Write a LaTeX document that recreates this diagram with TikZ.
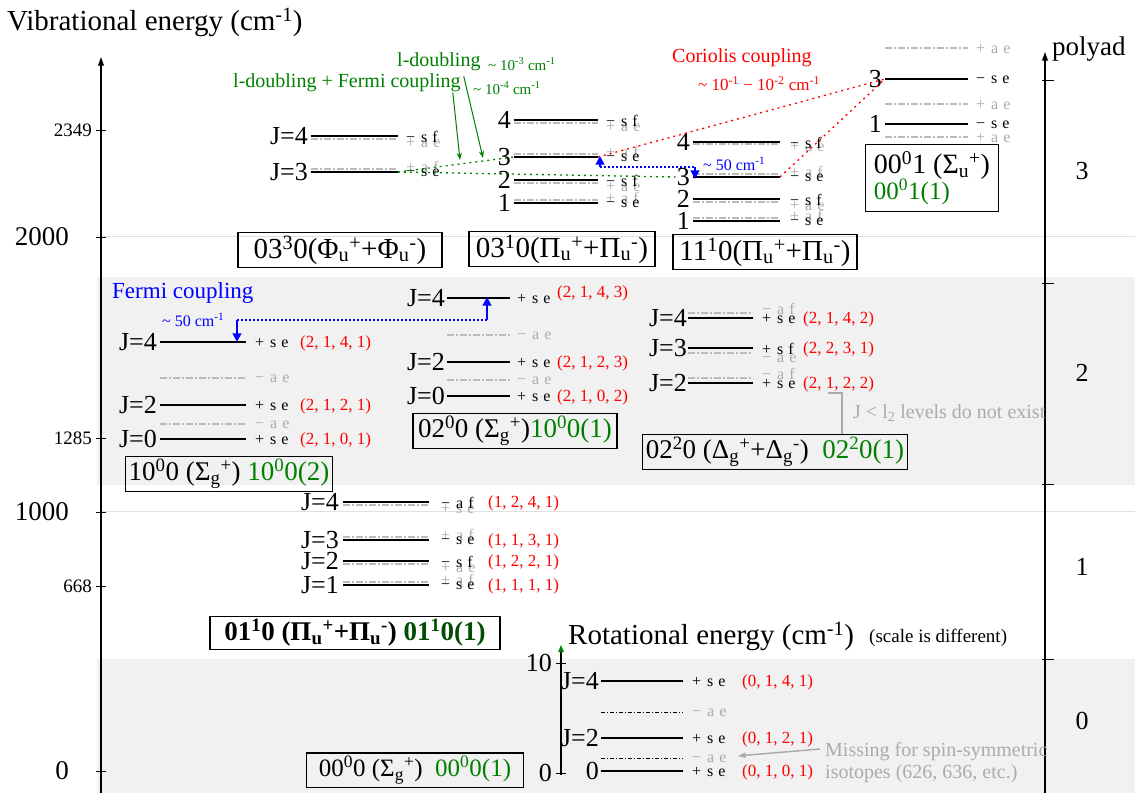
\documentclass[tikz,border=0pt]{standalone}
\usepackage{fontspec}
\setmainfont{Liberation Serif}
\usetikzlibrary{arrows.meta,positioning}
\definecolor{band}{HTML}{F1F1F1}
\definecolor{rulegray}{HTML}{E0E0E0}
\definecolor{ghostgray}{HTML}{BBBBBB}
\definecolor{textgray}{HTML}{ABABAB}
\definecolor{dgreen}{HTML}{008000}
\definecolor{qred}{HTML}{FF0000}
\definecolor{cblue}{HTML}{0000FF}
\newcommand\fs[1]{\fontsize{#1}{#1}\selectfont}
\newcommand\pse[3]{#1\hspace{6pt}#2\hspace{5pt}#3}
\newcommand\tld{\textasciitilde\ }

\begin{document}
\begin{tikzpicture}[x=1pt,y=-1pt,
  lev/.style={line width=1.8pt},
  ghost/.style={line width=1.3pt,ghostgray,dash pattern=on 7pt off 2pt on 2pt off 2pt},
  ghostk/.style={line width=1pt,dash pattern=on 4pt off 2pt on 1pt off 2pt},
  sym/.style={anchor=west,inner sep=0pt,font=\fs{16}},
  symg/.style={sym,textgray},
  jlab/.style={anchor=east,inner sep=1pt,font=\fs{26}},
  qn/.style={anchor=west,inner sep=0pt,qred,font=\fs{17}},
  vbox/.style={draw,line width=1.2pt,inner sep=3pt,font=\fs{27}},
  tlab/.style={anchor=east,inner sep=0pt},
  note/.style={anchor=west,inner sep=0pt,font=\fs{20}},
  gdot/.style={dgreen,line width=1.3pt,dash pattern=on 2pt off 4pt},
  rdot/.style={qred,line width=1.3pt,dash pattern=on 2pt off 4pt},
  bdot/.style={cblue,line width=1.8pt,dash pattern=on 2pt off 2pt},
  barr/.style={cblue,line width=2pt,-{Triangle[length=3mm,width=3mm]}},
  garr/.style={dgreen,line width=1pt,-{Stealth[length=2.5mm,width=1.8mm]}},
  axis/.style={line width=1.2pt,-{Triangle[length=3mm,width=2mm]}}]
  \useasboundingbox (0,0) rectangle (1135,793);

  % polyad bands and guide lines
  \fill[band] (97,277) rectangle (1135,485);
  \fill[band] (97,659) rectangle (1135,793);
  \draw[rulegray,line width=1pt] (101,236) -- (1135,236);
  \draw[rulegray,line width=1pt] (101,511) -- (1135,511);

  % vibrational energy axis
  \node[anchor=west,inner sep=0pt,font=\fs{29}] (vtitle) at (7,22) {Vibrational energy (cm\textsuperscript{-1})};
  \draw[axis] (101,793) -- (101,57);
  \foreach \v/\y/\x/\s in {2349/130/92/19, 2000/237/69/27, 1285/438/92/19,
                           1000/512/69/27, 668/586/92/19, 0/771/69/27} {
    \draw[line width=1pt] (96,\y) -- (106,\y);
    \node[tlab,font=\fs{\s}] (tv\v) at (\x,\y) {\v};
  }

  % polyad axis
  \draw[axis] (1045,793) -- (1045,52);
  \node[anchor=west,inner sep=0pt,font=\fs{27}] (ptitle) at (1052,49) {polyad};
  \foreach \y in {80,283,484,659} \draw[line width=1pt] (1042,\y) -- (1054,\y);
  \foreach \p/\y in {3/171,2/373,1/567,0/721}
    \node[font=\fs{26}] (pn\p) at (1082,\y) {\p};

  % ---- polyad 3 ----
  \foreach \n/\yb/\yg/\bt/\gt in {4/136/139/{\pse{−}{s}{f}}/{\pse{+}{a}{e}},
                                  3/172/169/{\pse{−}{s}{e}}/{\pse{+}{a}{f}}} {
    \draw[ghost] (311,\yg) -- (398,\yg);
    \draw[lev] (311,\yb) coordinate (pw\n) -- (398,\yb) coordinate (pe\n);
    \node[jlab] (pj\n) at (309,\yb) {J=\n};
    \node[symg] (pa\n) at (406,2*\yg-\yb+1) {\gt};
    \node[sym] (ps\n) at (406,\yb+1) {\bt};
  }
  \node[vbox,font=\fs{29},minimum width=204pt] (pbox) at (340,250) {03\textsuperscript{3}0(Φ\textsubscript{u}\textsuperscript{+}+Φ\textsubscript{u}\textsuperscript{-})};

  \foreach \n/\yb/\yg/\bt/\gt in {4/120/123/{\pse{−}{s}{f}}/{\pse{+}{a}{e}},
                                  3/157/154/{\pse{−}{s}{e}}/{\pse{+}{a}{f}},
                                  2/180/183/{\pse{−}{s}{f}}/{\pse{+}{a}{e}},
                                  1/203/200/{\pse{−}{s}{e}}/{\pse{+}{a}{f}}} {
    \draw[ghost] (514,\yg) -- (598,\yg);
    \draw[lev] (514,\yb) coordinate (qw\n) -- (598,\yb) coordinate (qe\n);
    \node[jlab] (qj\n) at (512,\yb) {\n};
    \node[symg] (qa\n) at (606,2*\yg-\yb+1) {\gt};
    \node[sym] (qs\n) at (606,\yb+1) {\bt};
  }
  \node[vbox,font=\fs{29},minimum width=186pt] (qbox) at (562,249) {03\textsuperscript{1}0(Π\textsubscript{u}\textsuperscript{+}+Π\textsubscript{u}\textsuperscript{-})};

  \foreach \n/\yb/\yg/\bt/\gt in {4/142/144/{\pse{−}{s}{f}}/{\pse{+}{a}{e}},
                                  3/177/174/{\pse{−}{s}{e}}/{\pse{+}{a}{f}},
                                  2/199/202/{\pse{−}{s}{f}}/{\pse{+}{a}{e}},
                                  1/221/218/{\pse{−}{s}{e}}/{\pse{+}{a}{f}}} {
    \draw[ghost] (693,\yg) -- (780,\yg);
    \draw[lev] (693,\yb) coordinate (rw\n) -- (780,\yb) coordinate (re\n);
    \node[jlab] (rj\n) at (691,\yb) {\n};
    \node[symg] (ra\n) at (790,2*\yg-\yb+1) {\gt};
    \node[sym] (rs\n) at (790,\yb+1) {\bt};
  }
  \node[vbox,font=\fs{29},minimum width=184pt] (rbox) at (765,252) {11\textsuperscript{1}0(Π\textsubscript{u}\textsuperscript{+}+Π\textsubscript{u}\textsuperscript{-})};

  \foreach \yg in {48,104,137} {
    \draw[ghost] (885,\yg) -- (968,\yg);
    \node[symg] (sa\yg) at (976,\yg+1) {\pse{+}{a}{e}};
  }
  \foreach \n/\yb in {3/79,1/124} {
    \draw[lev] (885,\yb) coordinate (sw\n) -- (968,\yb) coordinate (se\n);
    \node[jlab] (sj\n) at (883,\yb) {\n};
    \node[sym] (ss\n) at (976,\yb+1) {\pse{−}{s}{e}};
  }
  \node[vbox,align=left,font=\fs{28},minimum width=133pt,minimum height=67pt] (sbox) at (932,178) {00\textsuperscript{0}1 (Σ\textsubscript{u}\textsuperscript{+})\\[-2pt]{\fs{25}\color{dgreen}00\textsuperscript{0}1(1)}};

  % couplings in polyad 3
  \node[note,dgreen] (ldb) at (397,62) {l-doubling};
  \node[anchor=west,inner sep=0pt,dgreen,font=\fs{15}] (ldbv) at (488,64) {\tld 10\textsuperscript{-3} cm\textsuperscript{-1}};
  \node[note,dgreen] (lfc) at (233,83) {l-doubling + Fermi coupling};
  \node[anchor=west,inner sep=0pt,dgreen,font=\fs{15}] (lfcv) at (473,88) {\tld 10\textsuperscript{-4} cm\textsuperscript{-1}};
  \coordinate (gtip1) at (460,160);
  \coordinate (gtip2) at (483,158);
  \draw[garr] ([xshift=-8pt]lfc.south east) -- (gtip1);
  \draw[garr] ([xshift=-17pt,yshift=-5pt]ldb.south east) -- (gtip2);
  \draw[gdot] (pe3) -- (qw3);
  \draw[gdot] (pe3) -- (rj3.west);

  \node[note,qred] (cor) at (672,58) {Coriolis coupling};
  \node[anchor=west,inner sep=0pt,qred,font=\fs{17}] (corv) at (698,84) {\tld 10\textsuperscript{-1} − 10\textsuperscript{-2} cm\textsuperscript{-1}};
  \draw[rdot] (qe3) -- (sw3);
  \draw[rdot] (re3) -- (sw3);

  \coordinate (qbend) at (600,167);
  \coordinate (rbend) at (695,167);
  \coordinate (qtip) at (600,156);
  \coordinate (rtip) at (695,179);
  \draw[bdot] (qbend) -- (rbend);
  \draw[barr] (qbend) -- (qtip);
  \draw[barr] (rbend) -- (rtip);
  \node[anchor=west,inner sep=0pt,cblue,font=\fs{16}] (rfer) at (703,164) {\tld 50 cm\textsuperscript{-1}};

  % ---- polyad 2 ----
  \node[anchor=west,inner sep=0pt,cblue,font=\fs{23}] (fermi) at (112,293) {Fermi coupling};
  \foreach \yg in {378,424} {
    \draw[ghost] (160,\yg) -- (246,\yg);
    \node[symg] (fa\yg) at (255,\yg+1) {\pse{−}{a}{e}};
  }
  \foreach \n/\yb/\q in {4/342/{(2, 1, 4, 1)},2/405/{(2, 1, 2, 1)},0/439/{(2, 1, 0, 1)}} {
    \draw[lev] (160,\yb) coordinate (fw\n) -- (246,\yb) coordinate (fe\n);
    \node[jlab] (fj\n) at (158,\yb) {J=\n};
    \node[sym] (fs\n) at (255,\yb+1) {\pse{+}{s}{e}};
    \node[qn] (fq\n) at (300,\yb+1) {\q};
  }
  \node[vbox,minimum width=203pt] (fbox) at (229,474) {10\textsuperscript{0}0 (Σ\textsubscript{g}\textsuperscript{+}) \textcolor{dgreen}{10\textsuperscript{0}0(2)}};

  \foreach \yg in {335,380} {
    \draw[ghost] (447,\yg) -- (510,\yg);
    \node[symg] (ga\yg) at (517,\yg+1) {\pse{−}{a}{e}};
  }
  \foreach \n/\yb/\qy/\q in {4/298/292/{(2, 1, 4, 3)},2/362/362/{(2, 1, 2, 3)},0/396/396/{(2, 1, 0, 2)}} {
    \draw[lev] (447,\yb) coordinate (gw\n) -- (510,\yb) coordinate (ge\n);
    \node[jlab] (gj\n) at (446,\yb) {J=\n};
    \node[sym] (gs\n) at (517,\yb+1) {\pse{+}{s}{e}};
    \node[qn] (gq\n) at (557,\qy+1) {\q};
  }
  \node[vbox,minimum width=204pt] (gbox) at (515,431) {02\textsuperscript{0}0 (Σ\textsubscript{g}\textsuperscript{+})\textcolor{dgreen}{10\textsuperscript{0}0(1)}};

  \coordinate (fbend) at (237,320);
  \coordinate (gbend) at (487,320);
  \coordinate (ftip) at (237,342);
  \coordinate (gtip) at (487,297);
  \draw[bdot] (fbend) -- (gbend);
  \draw[barr] (fbend) -- (ftip);
  \draw[barr] (gbend) -- (gtip);
  \node[anchor=west,inner sep=0pt,cblue,font=\fs{16}] (ffer) at (162,320) {\tld 50 cm\textsuperscript{-1}};

  \foreach \n/\yb/\yg/\bt/\gt/\q in {4/318/313/{\pse{+}{s}{e}}/{\pse{−}{a}{f}}/{(2, 1, 4, 2)},
                                     3/348/353/{\pse{+}{s}{f}}/{\pse{−}{a}{e}}/{(2, 2, 3, 1)},
                                     2/383/378/{\pse{+}{s}{e}}/{\pse{−}{a}{f}}/{(2, 1, 2, 2)}} {
    \draw[ghost] (688,\yg) -- (753,\yg);
    \draw[lev] (688,\yb) coordinate (dw\n) -- (753,\yb) coordinate (de\n);
    \node[jlab] (dj\n) at (688,\yb) {J=\n};
    \node[symg] (da\n) at (762,2*\yg-\yb+1) {\gt};
    \node[sym] (ds\n) at (762,\yb+1) {\bt};
    \node[qn] (dq\n) at (803,\yb+1) {\q};
  }
  \node[vbox,minimum width=264pt] (dbox) at (775,452) {02\textsuperscript{2}0 (Δ\textsubscript{g}\textsuperscript{+}+Δ\textsubscript{g}\textsuperscript{-})\ \ \textcolor{dgreen}{02\textsuperscript{2}0(1)}};
  \coordinate (dbr) at (828,393);
  \draw[textgray,line width=1.2pt] (dbr) -- ++(14,0) coordinate (dbr2) -- (dbr2 |- dbox.north);
  \node[note,textgray] (dnote) at (853,413) {J < l\textsubscript{2} levels do not exist};

  % ---- polyad 1 ----
  \foreach \n/\yb/\yg/\bt/\gt/\q in {4/502/505/{\pse{−}{a}{f}}/{\pse{+}{s}{e}}/{(1, 2, 4, 1)},
                                     3/540/537/{\pse{−}{s}{e}}/{\pse{+}{a}{f}}/{(1, 1, 3, 1)},
                                     2/561/564/{\pse{−}{s}{f}}/{\pse{+}{a}{e}}/{(1, 2, 2, 1)},
                                     1/585/582/{\pse{−}{s}{e}}/{\pse{+}{a}{f}}/{(1, 1, 1, 1)}} {
    \draw[ghost] (343,\yg) -- (429,\yg);
    \draw[lev] (343,\yb) coordinate (hw\n) -- (429,\yb) coordinate (he\n);
    \node[jlab] (hj\n) at (340,\yb) {J=\n};
    \node[symg] (ha\n) at (441,2*\yg-\yb+1) {\gt};
    \node[sym] (hs\n) at (441,\yb+1) {\bt};
    \node[qn] (hq\n) at (488,\yb+1) {\q};
  }
  \node[vbox,font=\fs{27}\bfseries,minimum width=290pt] (hbox) at (355,633) {01\textsuperscript{1}0 (Π\textsubscript{u}\textsuperscript{+}+Π\textsubscript{u}\textsuperscript{-}) \textcolor{dgreen!60!black}{01\textsuperscript{1}0(1)}};

  % ---- polyad 0 (rotational scale) ----
  \node[anchor=west,inner sep=0pt,font=\fs{29}] (rtitle) at (568,636) {Rotational energy (cm\textsuperscript{-1})};
  \node[anchor=west,inner sep=0pt,font=\fs{19}] (rscale) at (869,638) {(scale is different)};
  \draw[line width=1.2pt,-{Triangle[length=2.5mm,width=2mm,dgreen]}] (561,775) -- (561,645);
  \foreach \v/\y in {10/663,0/773} {
    \draw[line width=1pt] (556,\y) -- (566,\y);
    \node[tlab,font=\fs{26}] (tr\v) at (552,\y) {\v};
  }
  \foreach \yg in {712,758} {
    \draw[ghostk] (601,\yg) -- (683,\yg);
    \node[symg] (ka\yg) at (692,\yg+1) {\pse{−}{a}{e}};
  }
  \foreach \n/\yb/\lab/\q in {4/681/J=4/{(0, 1, 4, 1)},2/738/J=2/{(0, 1, 2, 1)},0/771/0/{(0, 1, 0, 1)}} {
    \draw[lev] (601,\yb) coordinate (kw\n) -- (683,\yb) coordinate (ke\n);
    \node[jlab] (kj\n) at (600,\yb) {\lab};
    \node[sym] (ks\n) at (692,\yb+1) {\pse{+}{s}{e}};
    \node[qn] (kq\n) at (742,\yb+1) {\q};
  }
  \node[note,textgray] (miss1) at (825,752) {Missing for spin-symmetric};
  \node[note,textgray] (miss2) at (825,774) {isotopes (626, 636, etc.)};
  \coordinate (misstip) at (737,756);
  \draw[textgray,line width=1.5pt,-{Latex[length=3mm,width=2.2mm]}] ([xshift=-5pt,yshift=3pt]miss1.west) -- (misstip);
  \node[vbox,font=\fs{25},minimum width=217pt] (obox) at (415,770) {00\textsuperscript{0}0 (Σ\textsubscript{g}\textsuperscript{+})\ \ \textcolor{dgreen}{00\textsuperscript{0}0(1)}};
\end{tikzpicture}
\end{document}
